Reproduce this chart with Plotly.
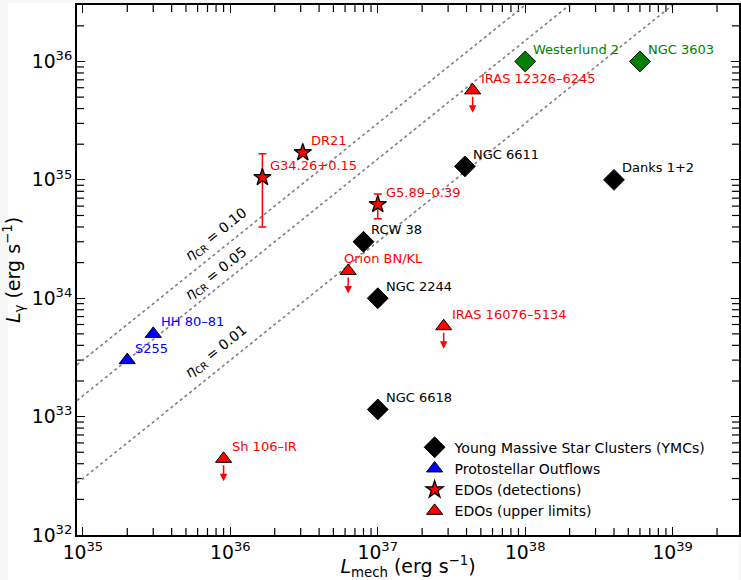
import numpy as np
import plotly.graph_objects as go

# Young massive star clusters
ymc_names = ["NGC 6611", "Danks 1+2", "RCW 38", "NGC 2244", "NGC 6618"]
ymc_lmech = [3.9e37, 4.0e38, 8.0e36, 1.0e37, 1.0e37]
ymc_lgamma = [1.3e35, 1.0e35, 3.0e34, 1.0e34, 1.15e33]

# Clusters highlighted in green
grn_names = ["Westerlund 2", "NGC 3603"]
grn_lmech = [1.0e38, 6.0e38]
grn_lgamma = [1.0e36, 1.0e36]

# Protostellar outflows
pso_names = ["HH 80–81", "S255"]
pso_lmech = [3.0e35, 2.0e35]
pso_lgamma = [5.0e33, 3.0e33]

# EDOs with detections
edo_names = ["DR21", "G34.26+0.15", "G5.89–0.39"]
edo_lmech = [3.1e36, 1.65e36, 1.0e37]
edo_lgamma = [1.7e35, 1.05e35, 6.2e34]
edo_err_hi = [0.0, 6.1e34, 1.4e34]
edo_err_lo = [0.0, 6.5e34, 1.5e34]

# EDOs with upper limits
ul_names = ["IRAS 12326–6245", "Orion BN/KL", "IRAS 16076–5134", "Sh 106–IR"]
ul_lmech = [4.4e37, 6.3e36, 2.8e37, 9.0e35]
ul_lgamma = [5.7e35, 1.7e34, 5.8e33, 4.4e32]

# CR efficiency lines: L_gamma = 0.3 * eta * L_mech
eta_values = [0.10, 0.05, 0.01]
eta_factor = 0.3

XR = [34.96, 39.45]
YR = [32.0, 36.477]
FONT = "DejaVu Sans"
PLOT_W, PLOT_H = 664, 530

fig = go.Figure()

# minor ticks (2..9 per decade), drawn inward on all four sides
x_per_px = (XR[1] - XR[0]) / PLOT_W
y_per_px = (YR[1] - YR[0]) / PLOT_H
tlen = 7
tx, ty = [], []
for d in range(34, 40):
    for m in range(2, 10):
        v = np.log10(m) + d
        if XR[0] < v < XR[1]:
            for a, b in [(YR[0], YR[0] + tlen * y_per_px), (YR[1], YR[1] - tlen * y_per_px)]:
                tx += [10 ** v, 10 ** v, None]
                ty += [10 ** a, 10 ** b, None]
for d in range(32, 37):
    for m in range(2, 10):
        v = np.log10(m) + d
        if YR[0] < v < YR[1]:
            for a, b in [(XR[0], XR[0] + tlen * x_per_px), (XR[1], XR[1] - tlen * x_per_px)]:
                tx += [10 ** a, 10 ** b, None]
                ty += [10 ** v, 10 ** v, None]
fig.add_trace(go.Scatter(x=tx, y=ty, mode="lines", line=dict(color="black", width=1.2),
                         showlegend=False, hoverinfo="skip", cliponaxis=False))

xl = np.array([10 ** XR[0], 10 ** XR[1]])
for eta in eta_values:
    fig.add_trace(go.Scatter(x=xl, y=eta_factor * eta * xl, mode="lines",
                             line=dict(color="#7f7f7f", width=1.6, dash="dot"),
                             showlegend=False, hoverinfo="skip"))

fig.add_trace(go.Scatter(x=ymc_lmech, y=ymc_lgamma, mode="markers",
                         name="Young Massive Star Clusters (YMCs)",
                         marker=dict(symbol="diamond", size=16, color="black",
                                     line=dict(color="black", width=1))))
fig.add_trace(go.Scatter(x=grn_lmech, y=grn_lgamma, mode="markers", showlegend=False,
                         marker=dict(symbol="diamond", size=16, color="#008000",
                                     line=dict(color="black", width=1))))
fig.add_trace(go.Scatter(x=pso_lmech, y=pso_lgamma, mode="markers",
                         name="Protostellar Outflows",
                         marker=dict(symbol="triangle-up", size=14, color="#0000ff",
                                     line=dict(color="black", width=1))))
fig.add_trace(go.Scatter(x=edo_lmech, y=edo_lgamma, mode="markers",
                         name="EDOs (detections)",
                         error_y=dict(type="data", symmetric=False, array=edo_err_hi,
                                      arrayminus=edo_err_lo, color="red",
                                      thickness=1.5, width=4),
                         marker=dict(symbol="star", size=13, color="#ff0000",
                                     line=dict(color="black", width=1.3))))
fig.add_trace(go.Scatter(x=ul_lmech, y=ul_lgamma, mode="markers",
                         name="EDOs (upper limits)",
                         marker=dict(symbol="triangle-up", size=14, color="#ff0000",
                                     line=dict(color="black", width=1))))

annotations = []

# downward arrows on upper limits
for x, y in zip(ul_lmech, ul_lgamma):
    lx, ly = np.log10(x), np.log10(y)
    annotations.append(dict(x=lx, y=ly - 0.19, ax=lx, ay=ly, axref="x", ayref="y",
                            xref="x", yref="y", showarrow=True, arrowhead=2,
                            arrowsize=1, arrowwidth=1.5, arrowcolor="red",
                            startstandoff=5, text=""))


def add_labels(names, xs, ys, color, shifts=None):
    for n, x, y in zip(names, xs, ys):
        dx = 6
        if shifts and n in shifts:
            dx = shifts[n]
        annotations.append(dict(x=np.log10(x), y=np.log10(y), xref="x", yref="y",
                                text=n, showarrow=False, xanchor="left",
                                yanchor="middle", xshift=dx, yshift=12,
                                font=dict(family=FONT, size=13, color=color)))


add_labels(ymc_names, ymc_lmech, ymc_lgamma, "black")
add_labels(grn_names, grn_lmech, grn_lgamma, "#008000")
add_labels(pso_names, pso_lmech, pso_lgamma, "#0000ff")
add_labels(edo_names, edo_lmech, edo_lgamma, "#ff0000")
add_labels(ul_names, ul_lmech, ul_lgamma, "#ff0000", shifts={"Orion BN/KL": -6})

# efficiency labels along the lines
lab_x = 35.9
for eta, off in zip(eta_values, [0.16, 0.13, 0.17]):
    ly = np.log10(eta_factor * eta) + lab_x + off
    annotations.append(dict(x=lab_x, y=ly, xref="x", yref="y", showarrow=False,
                            text="<i>η</i><sub>CR</sub> = %.2f" % eta,
                            textangle=-38.7,
                            font=dict(family=FONT, size=14, color="black")))

axis_common = dict(type="log", showgrid=False, zeroline=False, showline=True,
                   linecolor="black", linewidth=1.5, mirror="allticks",
                   ticks="inside", tickcolor="black", ticklen=8, tickwidth=1.3,
                   dtick=1, exponentformat="power",
                   tickfont=dict(family=FONT, size=15, color="black"))

fig.update_layout(
    width=741, height=580,
    margin=dict(l=77, r=0, t=5, b=45),
    paper_bgcolor="#f7f7f7", plot_bgcolor="white",
    font=dict(family=FONT, color="black"),
    xaxis=dict(axis_common, range=XR,
               title=dict(text="<i>L</i><sub>mech</sub> (erg s<sup>−1</sup>)",
                          font=dict(family=FONT, size=19), standoff=4)),
    yaxis=dict(axis_common, range=YR,
               title=dict(text="<i>L</i><sub>γ</sub> (erg s<sup>−1</sup>)",
                          font=dict(family=FONT, size=19), standoff=6)),
    legend=dict(x=0.51, y=0.195, xanchor="left", yanchor="top",
                bgcolor="rgba(255,255,255,0)", borderwidth=0,
                font=dict(family=FONT, size=14, color="black"),
                tracegroupgap=0),
    annotations=annotations,
    shapes=[dict(type="rect", xref="paper", yref="paper", layer="below",
                 x0=-69 / PLOT_W, x1=1.0, y0=-45 / PLOT_H, y1=532 / PLOT_H,
                 fillcolor="white", line=dict(width=0))],
)

fig.write_html("out.html")
